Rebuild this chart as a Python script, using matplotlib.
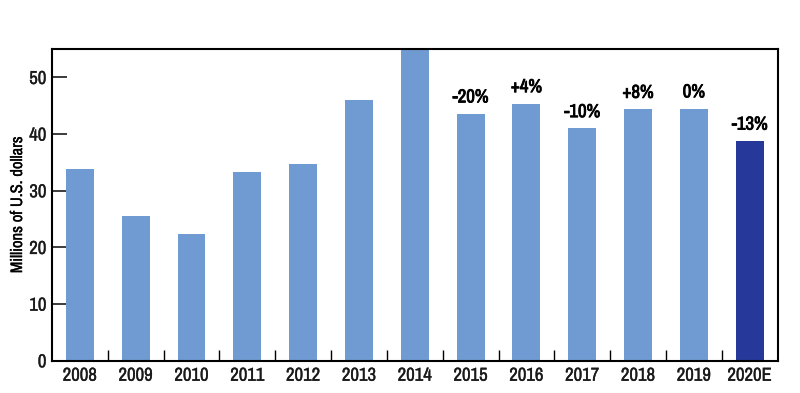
import numpy as np
import matplotlib
matplotlib.use("Agg")
import matplotlib.pyplot as plt
import matplotlib.patheffects as pe
from matplotlib import font_manager

years = ["2008", "2009", "2010", "2011", "2012", "2013", "2014",
         "2015", "2016", "2017", "2018", "2019", "2020E"]
values = [33.8, 25.6, 22.4, 33.4, 34.8, 46.1, 55.0,
          43.6, 45.4, 41.0, 44.4, 44.5, 38.8]
changes = ["", "", "", "", "", "", "",
           "-20%", "+4%", "-10%", "+8%", "0%", "-13%"]

# pick a condensed face if one is installed
names = sorted({f.name for f in font_manager.fontManager.ttflist})
narrow = [n for n in names if "Narrow" in n or "Condensed" in n]
if "Liberation Sans Narrow" in names:
    family = "Liberation Sans Narrow"
else:
    family = narrow[0] if narrow else "Liberation Sans"
plt.rcParams["font.family"] = [family, "DejaVu Sans"]

light = "#6f9bd2"
dark = "#26399a"
colors = [light] * (len(years) - 1) + [dark]

# slightly thicker strokes, the original face is a heavier condensed one
medium = [pe.withStroke(linewidth=0.25, foreground="#1a1a1a")]
heavy = [pe.withStroke(linewidth=0.6, foreground="black")]

fig = plt.figure(figsize=(8, 3.93), dpi=100)
ax = fig.add_axes([0.065, 0.082, 0.907, 0.793])

x = np.arange(len(years))
ax.bar(x, values, width=0.5, color=colors, zorder=2)

for xi, v, c in zip(x, values, changes):
    if c:
        ax.annotate(c, (xi, v), xytext=(0, 6), textcoords="offset points",
                    ha="center", va="bottom", fontsize=13.5, fontweight="bold",
                    path_effects=heavy)

ax.set_xlim(-0.5, len(years) - 0.5)
ax.set_ylim(0, 55)
ax.set_yticks([0, 10, 20, 30, 40, 50])
ax.tick_params(axis="y", direction="in", length=11, width=1.2, labelsize=13.5, pad=4,
               colors="#1a1a1a")

ax.set_xticks(x)
ax.set_xticklabels(years, fontsize=13.5)
ax.tick_params(axis="x", length=0, pad=5, colors="#1a1a1a")
ax.set_xticks(x[:-1] + 0.5, minor=True)
ax.tick_params(axis="x", which="minor", direction="in", length=8, width=1.0)

for lab in ax.get_xticklabels() + ax.get_yticklabels():
    lab.set_path_effects(medium)

for s in ax.spines.values():
    s.set_linewidth(1.5)

ax.set_ylabel("Millions of U.S. dollars", fontsize=12, labelpad=3,
              path_effects=medium)

fig.savefig("out.png", dpi=100)
